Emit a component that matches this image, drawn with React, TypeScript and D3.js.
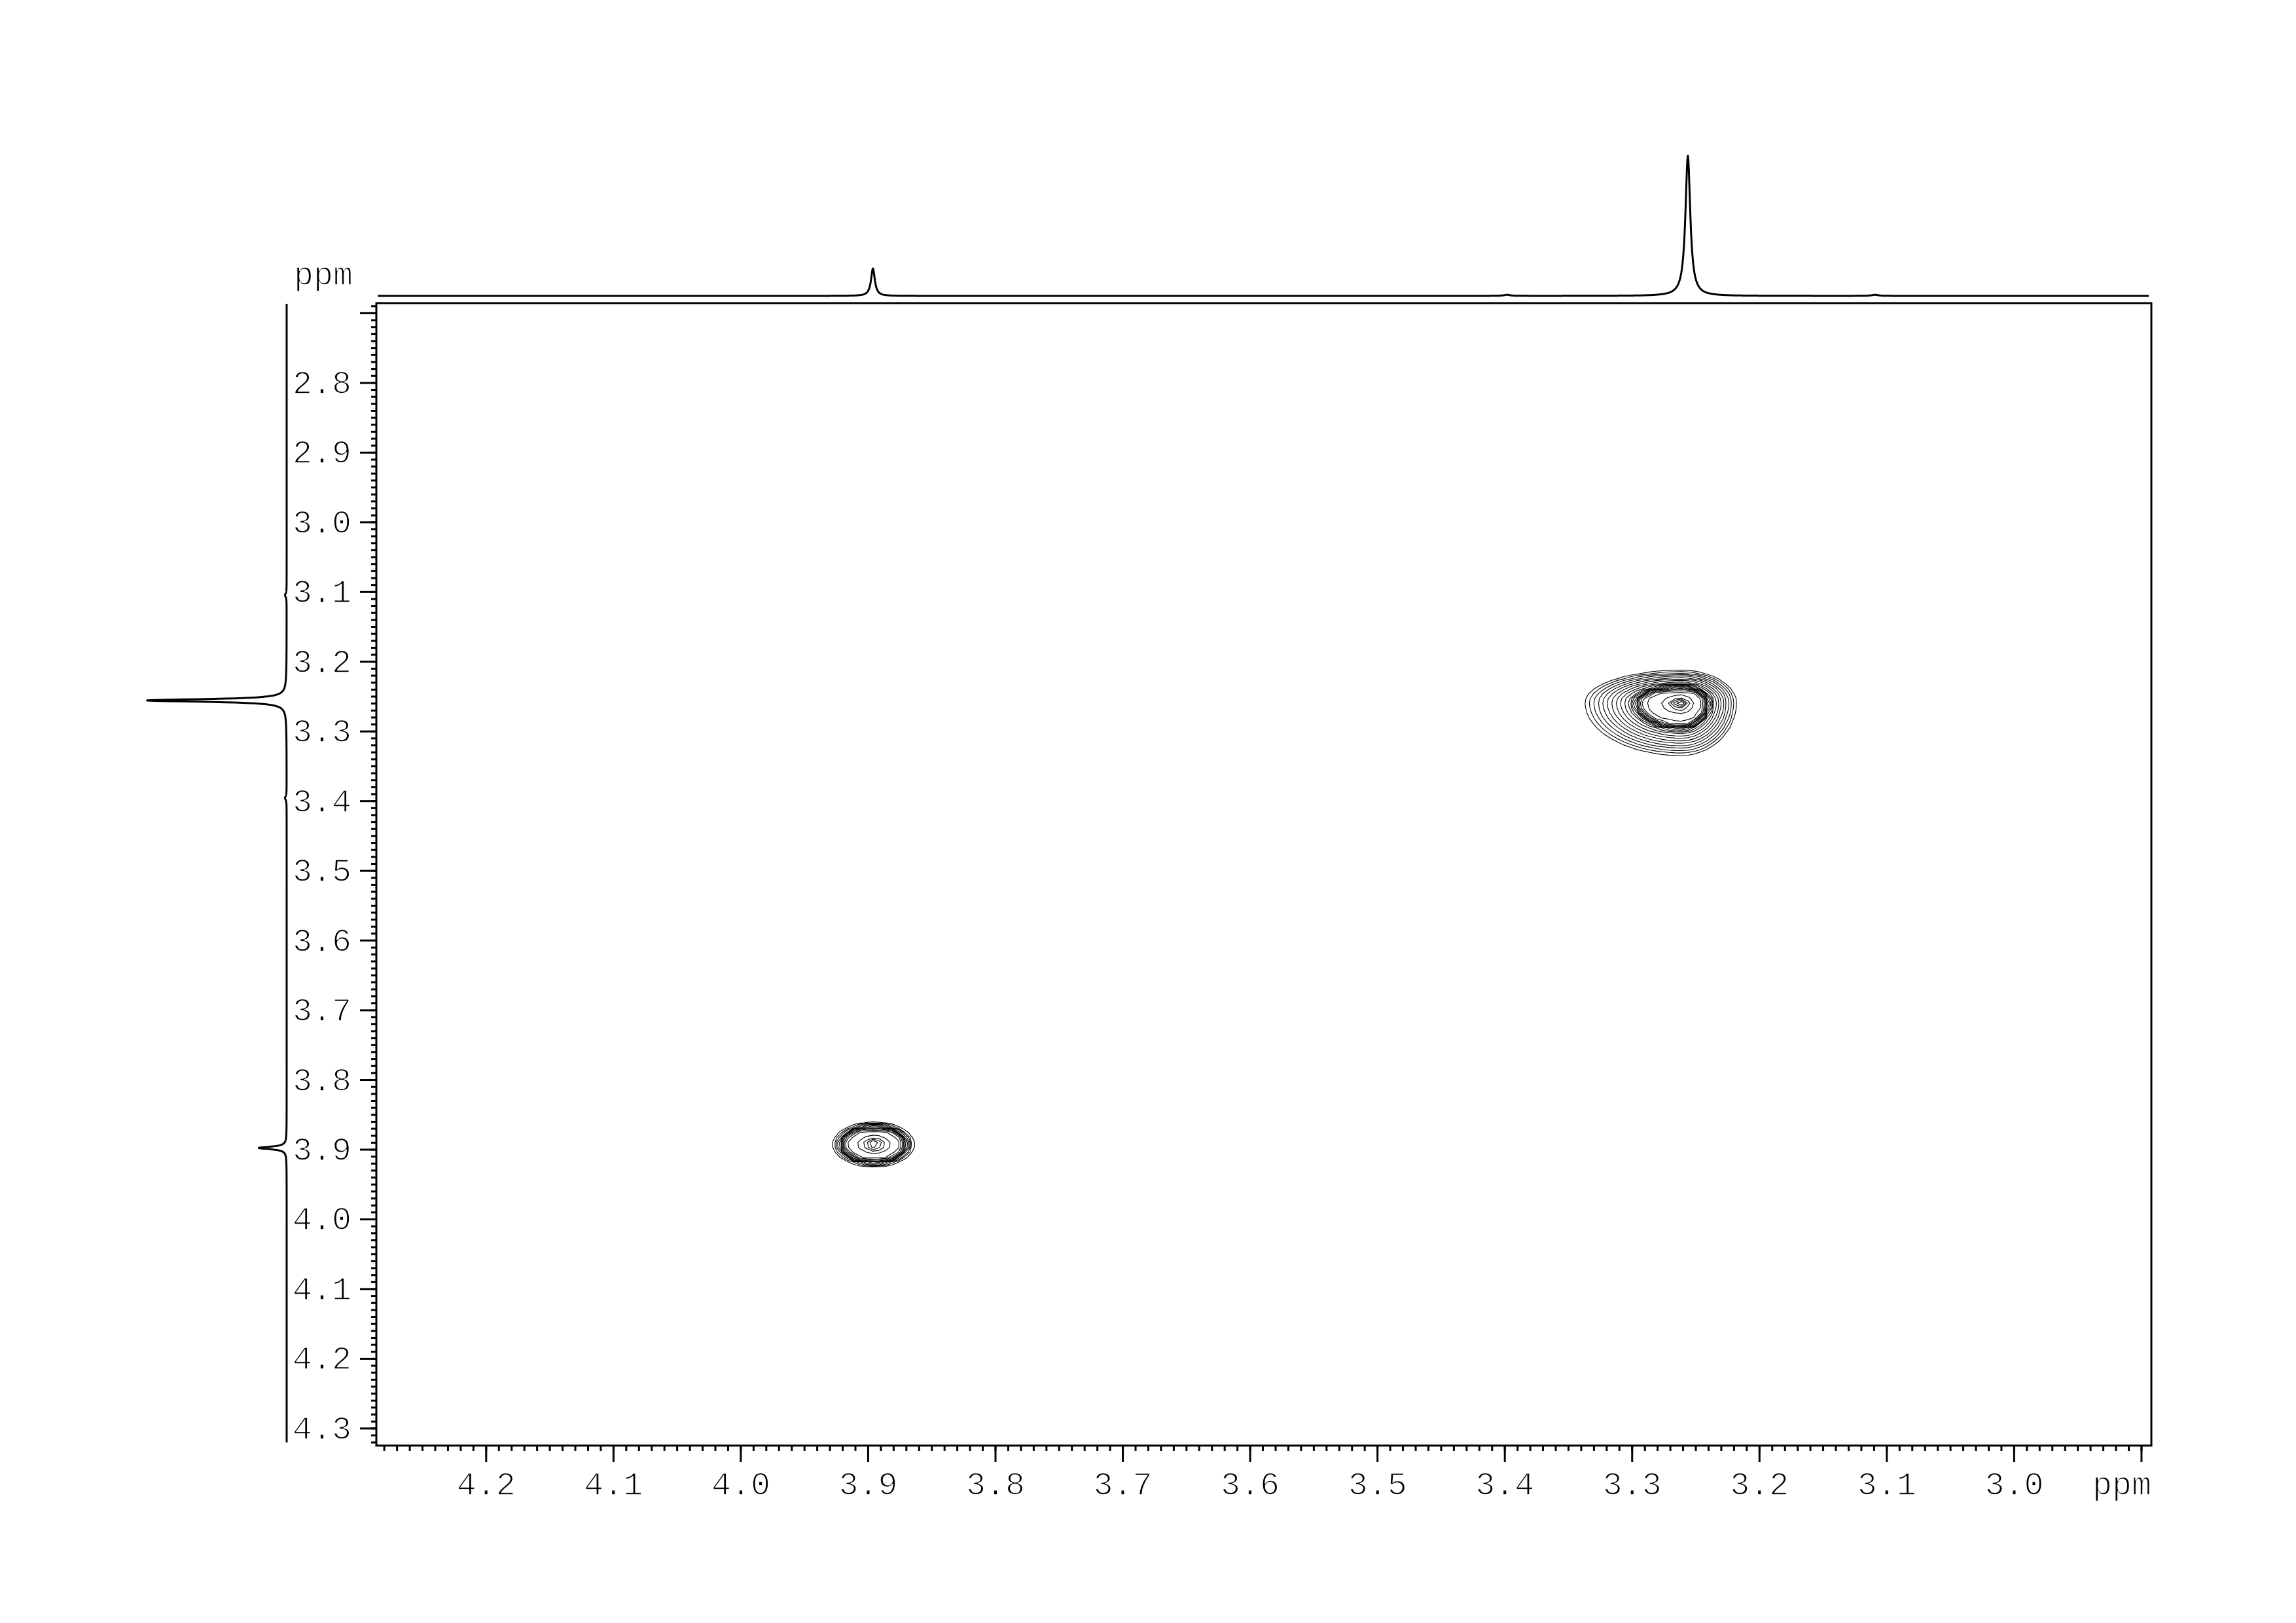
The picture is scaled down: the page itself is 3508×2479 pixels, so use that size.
import { useEffect, useRef } from "react";
import * as d3 from "d3";

const W = 3508;
const H = 2479;
const FONT = "'Liberation Mono', 'DejaVu Sans Mono', monospace";

// visible window in ppm (F2 runs right to left, F1 top to bottom)
const xDomain = [4.286, 2.892];
const yDomain = [2.686, 4.325];

// tick values and labels
const xMajorTicks = [4.2, 4.1, 4.0, 3.9, 3.8, 3.7, 3.6, 3.5, 3.4, 3.3, 3.2, 3.1, 3.0, 2.9];
const xTickLabels = ["4.2", "4.1", "4.0", "3.9", "3.8", "3.7", "3.6", "3.5", "3.4", "3.3", "3.2", "3.1", "3.0", ""];
const yMajorTicks = [2.7, 2.8, 2.9, 3.0, 3.1, 3.2, 3.3, 3.4, 3.5, 3.6, 3.7, 3.8, 3.9, 4.0, 4.1, 4.2, 4.3];
const yTickLabels = ["", "2.8", "2.9", "3.0", "3.1", "3.2", "3.3", "3.4", "3.5", "3.6", "3.7", "3.8", "3.9", "4.0", "4.1", "4.2", "4.3"];

// 1D projection on top (F2)
const topPeakPpm = [3.896, 3.398, 3.256, 3.109];
const topPeakHeight = [0.196, 0.008, 1, 0.008];
const topPeakWidth = [0.0018, 0.003, 0.0023, 0.003];

// 1D projection on the left (F1)
const leftPeakPpm = [3.105, 3.256, 3.396, 3.898];
const leftPeakHeight = [0.012, 1, 0.012, 0.2];
const leftPeakWidth = [0.003, 0.0023, 0.003, 0.0022];

// 2D cross peaks: centre, amplitude, half extents to each side (ppm)
const peakX = [3.261, 3.895];
const peakY = [3.259, 3.893];
const peakAmp = [1, 0.1];
const peakLeft = [0.076, 0.055];
const peakRight = [0.043, 0.053];
const peakUp = [0.046, 0.054];
const peakDown = [0.076, 0.054];

// contour levels (base * factor^k)
const levelBase = 0.0035;
const levelFactor = 1.3;
const levelCount = 26;

const gridStepX = 0.005;
const gridStepY = 0.007;

const shape = (r: number) =>
  Math.exp(-r / 0.176) + 0.55 / (1 + Math.pow(r / 0.43, 22)) + 1.8 * Math.exp(-((r / 0.08) ** 2));

const intensity = (px: number, py: number) => {
  let f = 0;
  for (let k = 0; k < peakX.length; k++) {
    const dx = px - peakX[k];
    const dy = py - peakY[k];
    const wx = dx > 0 ? peakLeft[k] : peakRight[k];
    const wy = dy > 0 ? peakDown[k] : peakUp[k];
    const r = Math.sqrt((dx / wx) ** 2 + (dy / wy) ** 2);
    f += peakAmp[k] * shape(r);
  }
  return f;
};

const lorentz = (p: number, pos: number[], h: number[], w: number[]) => {
  let s = 0;
  for (let k = 0; k < pos.length; k++) s += h[k] / (1 + ((p - pos[k]) / w[k]) ** 2);
  return s;
};

const App = () => {
  const svgRef = useRef<SVGSVGElement>(null);

  useEffect(() => {
    const svg = d3.select(svgRef.current);
    svg.selectAll("*").remove();

    const xScale = d3.scaleLinear().domain(xDomain).range([575, 3287]);
    const yScale = d3.scaleLinear().domain(yDomain).range([463, 2208]);
    const topScale = d3.scaleLinear().domain([0, 1]).range([452, 238]);
    const leftScale = d3.scaleLinear().domain([0, 1]).range([438, 223]);

    // contours
    const nx = Math.round((xDomain[0] - xDomain[1]) / gridStepX) + 1;
    const ny = Math.round((yDomain[1] - yDomain[0]) / gridStepY) + 1;
    const values: number[] = new Array(nx * ny);
    for (let j = 0; j < ny; j++) {
      for (let i = 0; i < nx; i++) {
        values[j * nx + i] = intensity(xDomain[0] - i * gridStepX, yDomain[0] + j * gridStepY);
      }
    }
    const levels = d3.range(levelCount).map((k) => levelBase * Math.pow(levelFactor, k));
    const contours = d3.contours().size([nx, ny]).thresholds(levels)(values);
    const proj = d3.geoTransform({
      point: function (x: number, y: number) {
        this.stream.point(
          xScale(xDomain[0] - (x - 0.5) * gridStepX),
          yScale(yDomain[0] + (y - 0.5) * gridStepY)
        );
      },
    });
    svg.append("g")
      .selectAll("path")
      .data(contours)
      .join("path")
      .attr("d", d3.geoPath(proj) as any)
      .attr("fill", "none")
      .attr("stroke", "#000")
      .attr("stroke-width", 1.1);

    // frame
    svg.append("rect")
      .attr("x", 575).attr("y", 463)
      .attr("width", 3287 - 575).attr("height", 2208 - 463)
      .attr("fill", "none").attr("stroke", "#000").attr("stroke-width", 3);

    // axes; text is thinned with a white outline to look like the plotter font
    const styleAxis = (g: any) => {
      g.select(".domain").remove();
      g.selectAll("line").attr("stroke", "#000").attr("stroke-width", 3);
      g.selectAll("text").attr("fill", "#000").attr("stroke", "#fff").attr("stroke-width", 1.6);
      g.attr("font-family", FONT).attr("font-size", 50);
    };

    svg.append("g")
      .attr("transform", "translate(0,2208)")
      .call(d3.axisBottom(xScale).tickValues(d3.range(290, 429).map((v) => v / 100)).tickSize(8).tickFormat(() => ""))
      .call(styleAxis);
    svg.append("g")
      .attr("transform", "translate(0,2208)")
      .call(
        d3.axisBottom(xScale).tickValues(xMajorTicks).tickSize(25).tickPadding(14)
          .tickFormat((d, i) => xTickLabels[i])
      )
      .call(styleAxis);

    svg.append("g")
      .attr("transform", "translate(575,0)")
      .call(d3.axisLeft(yScale).tickValues(d3.range(269, 433).map((v) => v / 100)).tickSize(8).tickFormat(() => ""))
      .call(styleAxis);
    svg.append("g")
      .attr("transform", "translate(575,0)")
      .call(
        d3.axisLeft(yScale).tickValues(yMajorTicks).tickSize(25).tickPadding(13)
          .tickFormat((d, i) => yTickLabels[i])
      )
      .call(styleAxis);

    // ppm labels
    const unitLabel = (x: number, y: number) =>
      svg.append("text").attr("x", x).attr("y", y).attr("text-anchor", "end")
        .attr("font-family", FONT).attr("font-size", 50)
        .attr("fill", "#000").attr("stroke", "#fff").attr("stroke-width", 1.6)
        .text("ppm");
    unitLabel(3287, 2283);
    unitLabel(539, 435);

    // top projection
    const topPts = d3.range(xDomain[1] + 0.002, xDomain[0] - 0.001, 0.0004);
    svg.append("path")
      .datum(topPts)
      .attr("d", d3.line<number>()
        .x((p) => xScale(p))
        .y((p) => topScale(lorentz(p, topPeakPpm, topPeakHeight, topPeakWidth))))
      .attr("fill", "none").attr("stroke", "#000").attr("stroke-width", 3).attr("stroke-linejoin", "round");

    // left projection
    const leftPts = d3.range(2.687, 4.321, 0.0004);
    svg.append("path")
      .datum(leftPts)
      .attr("d", d3.line<number>()
        .x((p) => leftScale(lorentz(p, leftPeakPpm, leftPeakHeight, leftPeakWidth)))
        .y((p) => yScale(p)))
      .attr("fill", "none").attr("stroke", "#000").attr("stroke-width", 3).attr("stroke-linejoin", "round");
  }, []);

  return (
    <svg
      ref={svgRef}
      width={W}
      height={H}
      style={{ position: "absolute", left: 0, top: 0, background: "#fff", display: "block" }}
    />
  );
};

export default App;
